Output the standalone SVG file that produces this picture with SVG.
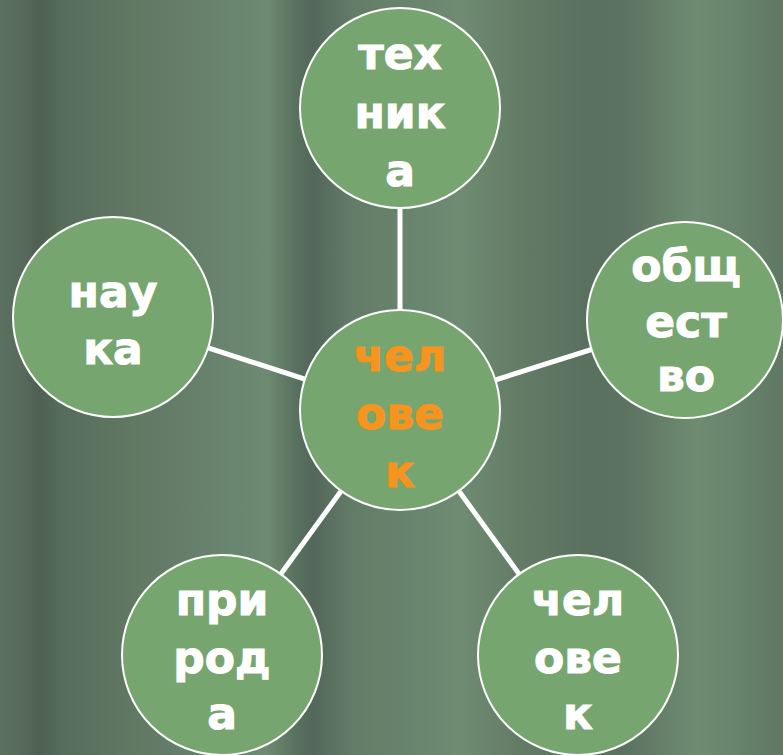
<svg xmlns="http://www.w3.org/2000/svg" width="783" height="755" viewBox="0 0 783 755">
<defs>
<linearGradient id="bg" x1="0" y1="0" x2="783" y2="0" gradientUnits="userSpaceOnUse">
<stop offset="0" stop-color="#5c7160"/>
<stop offset="0.03" stop-color="#56695a"/>
<stop offset="0.05" stop-color="#4e6051"/>
<stop offset="0.08" stop-color="#576d5c"/>
<stop offset="0.18" stop-color="#627964"/>
<stop offset="0.30" stop-color="#6a8570"/>
<stop offset="0.34" stop-color="#6e8a71"/>
<stop offset="0.38" stop-color="#58705e"/>
<stop offset="0.40" stop-color="#53675a"/>
<stop offset="0.45" stop-color="#637c67"/>
<stop offset="0.55" stop-color="#6b8770"/>
<stop offset="0.59" stop-color="#6f8b72"/>
<stop offset="0.66" stop-color="#647c66"/>
<stop offset="0.75" stop-color="#5a705f"/>
<stop offset="0.80" stop-color="#5c7361"/>
<stop offset="0.89" stop-color="#6f8c72"/>
<stop offset="0.95" stop-color="#66826b"/>
<stop offset="1" stop-color="#5f7763"/>
</linearGradient>
<style>
.node circle { fill: #77a570; stroke: #ffffff; stroke-width: 2; }
.lbl { font-family: "DejaVu Sans", Verdana, sans-serif; font-weight: bold; font-size: 44px; fill: #ffffff; stroke: #ffffff; stroke-width: 1; text-anchor: middle; }
.ctr { fill: #f7941d; stroke: #f7941d; }
.conn line { stroke: #ffffff; stroke-width: 5; }
</style>
</defs>
<rect width="783" height="755" fill="url(#bg)"/>
<g id="connectors" class="conn">
<line x1="400" y1="410" x2="400" y2="108"/>
<line x1="400" y1="410" x2="113" y2="317"/>
<line x1="400" y1="410" x2="685" y2="320"/>
<line x1="400" y1="410" x2="222" y2="655"/>
<line x1="400" y1="410" x2="578" y2="655"/>
</g>
<g id="technika" class="node">
<circle cx="400" cy="108" r="100"/>
<text class="lbl" x="400" y="69">тех</text>
<text class="lbl" x="400" y="128">ник</text>
<text class="lbl" x="400" y="186">а</text>
</g>
<g id="nauka" class="node">
<circle cx="113" cy="317" r="100"/>
<text class="lbl" x="113" y="307">нау</text>
<text class="lbl" x="113" y="364">ка</text>
</g>
<g id="obshchestvo" class="node">
<circle cx="685" cy="320" r="98"/>
<text class="lbl" x="686" y="281">общ</text>
<text class="lbl" x="686" y="337">ест</text>
<text class="lbl" x="686" y="391">во</text>
</g>
<g id="chelovek-center" class="node">
<circle cx="400" cy="410" r="100"/>
<text class="lbl ctr" x="400" y="371">чел</text>
<text class="lbl ctr" x="400" y="429">ове</text>
<text class="lbl ctr" x="400" y="487">к</text>
</g>
<g id="priroda" class="node">
<circle cx="222" cy="655" r="100"/>
<text class="lbl" x="222" y="615">при</text>
<text class="lbl" x="222" y="673">род</text>
<text class="lbl" x="222" y="729">а</text>
</g>
<g id="chelovek" class="node">
<circle cx="578" cy="655" r="100"/>
<text class="lbl" x="578" y="615">чел</text>
<text class="lbl" x="578" y="673">ове</text>
<text class="lbl" x="578" y="729">к</text>
</g>
</svg>
